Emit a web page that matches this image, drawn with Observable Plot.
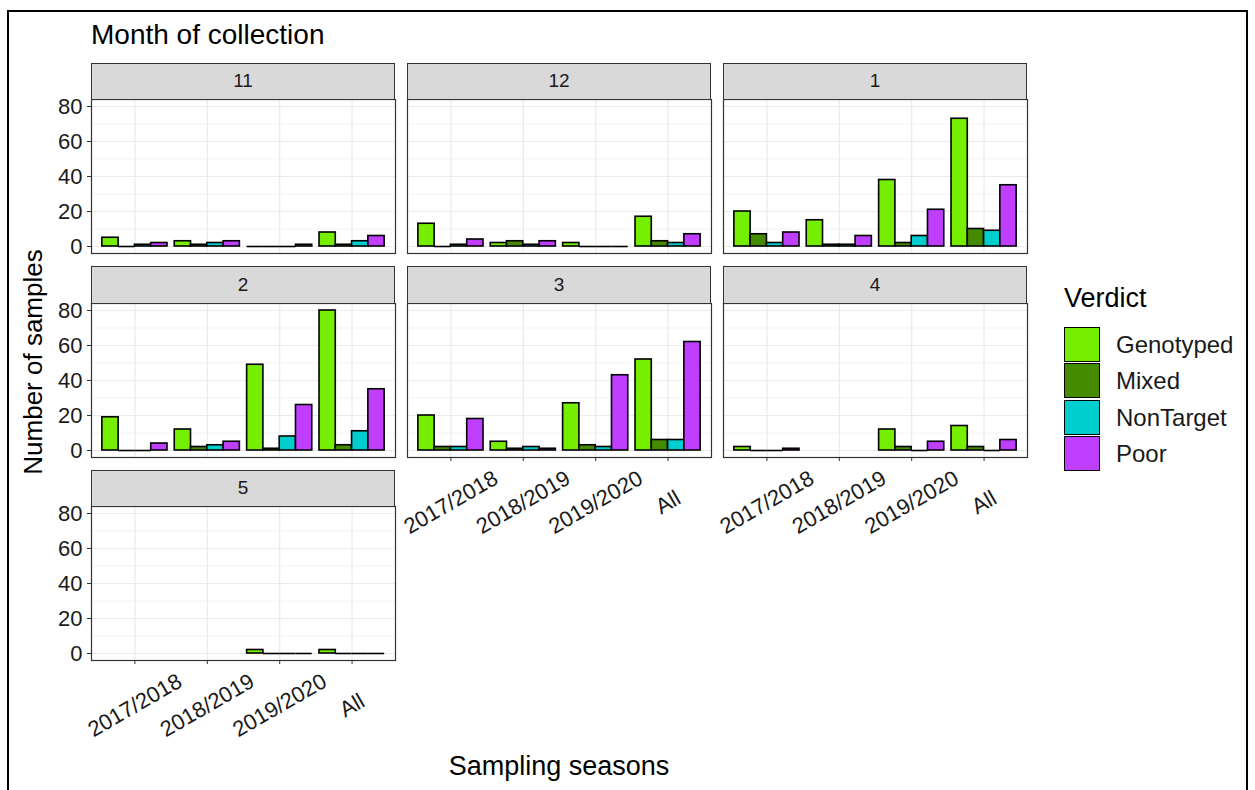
<!DOCTYPE html>
<html><head><meta charset="utf-8">
<script src="https://cdn.jsdelivr.net/npm/d3@7"></script>
<script src="https://cdn.jsdelivr.net/npm/@observablehq/plot@0.6"></script>
<style>
body{margin:0;background:#fff;font-family:"Liberation Sans",Arial,sans-serif;}
#fig{position:relative;width:1255px;height:790px;overflow:hidden;background:#fff;}
.abs{position:absolute;white-space:nowrap;line-height:1;}
.strip{position:absolute;background:#d9d9d9;border:1.1px solid #333;box-sizing:border-box;display:flex;align-items:center;justify-content:center;font-size:19px;color:#1a1a1a;}
.key{position:absolute;width:36px;height:35px;box-sizing:border-box;border:1.6px solid #000;}
svg{position:absolute;}
</style></head><body><div id="fig"></div><script>
const months = ["11","12","1","2","3","4","5"];
const seasons = ["2017/2018","2018/2019","2019/2020","All"];
const verdicts = ["Genotyped","Mixed","NonTarget","Poor"];
const verdictColors = ["#76EE00","#458B00","#00CDCD","#BF3EFF"];
const yTicks = [0,20,40,60,80];
const yMinor = [10,30,50,70];
// counts per month: one row per season, one column per verdict (null = no samples)
const month11 = [[5,0,1,2],[3,1,2,3],[0,0,0,1],[8,1,3,6]];
const month12 = [[13,0,1,4],[2,3,1,3],[2,0,0,0],[17,3,2,7]];
const month1  = [[20,7,2,8],[15,1,1,6],[38,2,6,21],[73,10,9,35]];
const month2  = [[19,0,0,4],[12,2,3,5],[49,1,8,26],[80,3,11,35]];
const month3  = [[20,2,2,18],[5,1,2,1],[27,3,2,43],[52,6,6,62]];
const month4  = [[2,0,0,1],null,[12,2,0,5],[14,2,0,6]];
const month5  = [null,null,[2,0,0,0],[2,0,0,0]];
const monthCounts = [month11, month12, month1, month2, month3, month4, month5];

const fig = document.getElementById("fig");
function addDiv(cls, css, text){
  const d = document.createElement("div");
  d.className = cls; d.style.cssText = css; if (text != null) d.textContent = text;
  fig.appendChild(d); return d;
}
// outer frame
addDiv("abs", "left:7px;top:10px;width:1241px;height:800px;border:2px solid #000;box-sizing:border-box;");

const colLeft = [91, 407, 723];
const panelW = 304, panelH = 154, stripH = 36.5;
const stripTop = [62.5, 266, 469.5];
const barW = 0.9 / verdicts.length;

months.forEach((m, i) => {
  const row = Math.floor(i / 3), col = i % 3;
  const isBottom = (i >= 4);
  const counts = monthCounts[i];
  const rows = seasons.flatMap((s, si) => counts[si] ? verdicts.map((v, vi) => ({season: s, verdict: v, count: counts[si][vi], pos: si + 1, slot: vi})) : []);
  const ml = col === 0 ? 70 : 1, mb = isBottom ? 100 : 1, mt = 1, mr = 1;
  const pTop = stripTop[row] + stripH;
  const x1 = d => d.pos - 0.45 + d.slot * barW;
  const x2 = d => d.pos - 0.45 + (d.slot + 1) * barW;
  const chart = Plot.plot({
    width: ml + panelW + mr, height: mt + panelH + mb,
    marginLeft: ml, marginRight: mr, marginTop: mt, marginBottom: mb,
    x: {type: "linear", domain: [0.4, 4.6], axis: null, label: null},
    y: {domain: [-4, 84], axis: null, label: null},
    color: {domain: verdicts, range: verdictColors},
    style: {background: "transparent", overflow: "visible", fontFamily: '"Liberation Sans", Arial, sans-serif', color: "#1a1a1a"},
    marks: [
      Plot.gridY(yMinor, {stroke: "#ebebeb", strokeOpacity: 1, strokeWidth: 0.6}),
      Plot.gridY(yTicks, {stroke: "#ebebeb", strokeOpacity: 1, strokeWidth: 1.2}),
      Plot.gridX([1,2,3,4], {stroke: "#ebebeb", strokeOpacity: 1, strokeWidth: 1.2}),
      Plot.rectY(rows.filter(d => d.count > 0), {x1, x2, y1: 0, y2: "count", fill: "verdict", stroke: "#000", strokeWidth: 1.6}),
      Plot.ruleY(rows.filter(d => d.count === 0), {x1, x2, y: 0, stroke: "#000", strokeWidth: 1.6}),
      Plot.frame({stroke: "#333", strokeWidth: 1.2}),
      col === 0 ? Plot.axisY(yTicks, {tickSize: 4, tickPadding: 5, fontSize: 22, stroke: "#333", label: null}) : null,
      isBottom ? Plot.axisX([1,2,3,4], {tickSize: 4, tickFormat: () => "", stroke: "#333", label: null}) : null,
      isBottom ? Plot.text(seasons, {x: (d, k) => k + 1, text: d => d, frameAnchor: "bottom", dy: 45, rotate: -30, fontSize: 22, textAnchor: "middle", lineAnchor: "middle"}) : null
    ]
  });
  chart.style.left = (colLeft[col] - ml) + "px";
  chart.style.top = (pTop - mt) + "px";
  fig.appendChild(chart);
  addDiv("strip", `left:${colLeft[col]}px;top:${stripTop[row]}px;width:${panelW}px;height:${stripH + 1}px;`, m);
});

// titles
addDiv("abs", "left:91px;top:21px;font-size:28px;color:#000;", "Month of collection");
addDiv("abs", "left:359px;top:753px;width:400px;text-align:center;font-size:27px;color:#000;", "Sampling seasons");
addDiv("abs", "left:-167px;top:349px;width:400px;text-align:center;font-size:26px;color:#000;transform:rotate(-90deg);", "Number of samples");

// legend
addDiv("abs", "left:1064px;top:285px;font-size:27px;color:#000;", "Verdict");
verdicts.forEach((v, k) => {
  const top = 326.5 + k * 36.5;
  addDiv("key", `left:1064px;top:${top}px;background:${verdictColors[k]};`);
  addDiv("abs", `left:1116px;top:${top + 6}px;font-size:24px;color:#1a1a1a;`, v);
});
</script></body></html>
